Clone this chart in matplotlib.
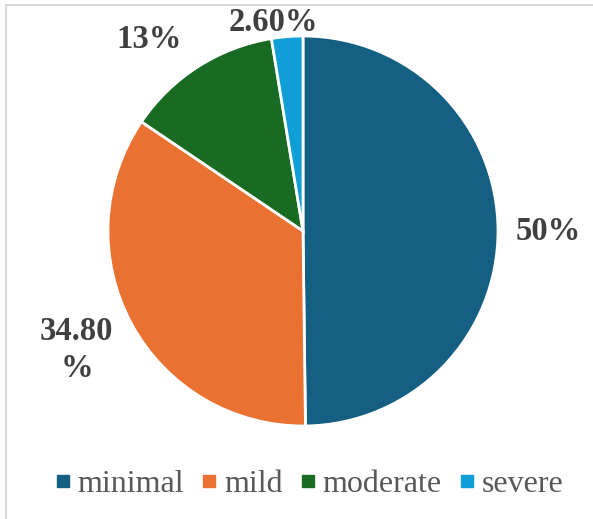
import matplotlib.pyplot as plt
from matplotlib.lines import Line2D
from matplotlib.patches import Rectangle

categories = ["minimal", "mild", "moderate", "severe"]
values = [50, 34.8, 13, 2.6]
label_texts = ["50%", "34.80\n%", "13%", "2.60%"]

COLORS = ["#156082", "#E97132", "#196B24", "#0F9ED5"]
# label anchor positions in pie units (radius = 1)
LABEL_POS = [(1.26, 0.0), (-1.16, -0.61), (-0.79, 0.98), (-0.15, 1.07)]

plt.rcParams["font.family"] = ["Liberation Serif", "DejaVu Serif"]

fig = plt.figure(figsize=(5.93, 5.19), dpi=100)
ax = fig.add_axes([108 / 593, 93 / 519, 390 / 593, 390 / 519])

wedges, _ = ax.pie(
    values,
    colors=COLORS,
    startangle=90,
    counterclock=False,
    wedgeprops=dict(edgecolor="white", linewidth=2),
)
ax.set_xlim(-1, 1)
ax.set_ylim(-1, 1)
ax.set_aspect("equal")

for txt, (x, y) in zip(label_texts, LABEL_POS):
    ax.text(x, y, txt, ha="center", va="center", fontsize=23.5,
            fontweight="bold", color="#404040", linespacing=1.25,
            clip_on=False)

handles = [Line2D([], [], marker="s", ls="none", markersize=8.6,
                  markerfacecolor=c, markeredgecolor=c) for c in COLORS]
fig.legend(handles, categories, loc="center", bbox_to_anchor=(0.52, 0.067),
           ncol=4, frameon=False, fontsize=23, handlelength=0.6,
           handletextpad=0.17, columnspacing=0.48, labelcolor="#595959")

# light frame around the chart area
fig.patches.append(Rectangle((6 / 593, -0.1), 1.2, 1 - 5 / 519 + 0.1,
                             transform=fig.transFigure, fill=False,
                             edgecolor="#d9d9d9", linewidth=1.5))

plt.savefig("out.png", dpi=100)
plt.close()
